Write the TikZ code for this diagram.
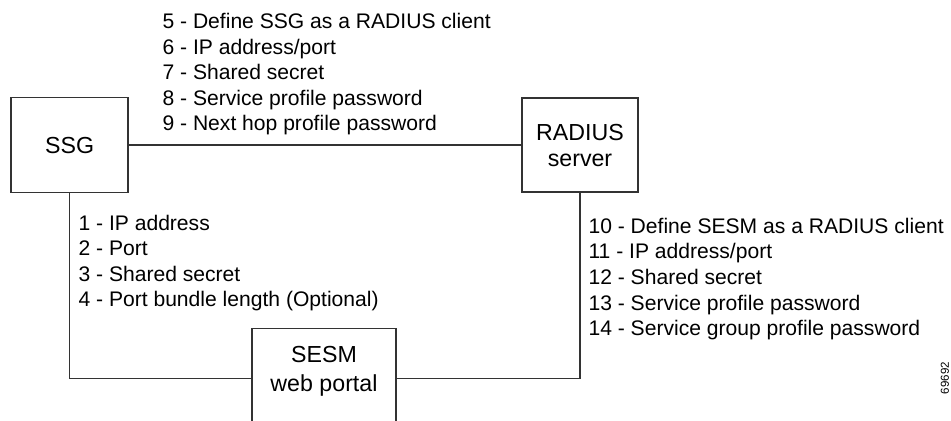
\documentclass[tikz,border=0pt]{standalone}
\usepackage{fontspec}
\setmainfont{Liberation Sans}
\usepackage{tikz}

\begin{document}
\begin{tikzpicture}[thick]

	\tikzstyle{unit} = [draw=black!80,line width=1pt,align=center,inner sep=0pt,font=\fontsize{16.5}{18.5}\selectfont]
	\tikzstyle{steps} = [anchor=base west,align=left,inner sep=0pt,font=\fontsize{15}{18.2}\selectfont]
	\tikzstyle{link} = [draw=black!80,line width=1pt]

	\useasboundingbox (0,0) rectangle (23.775,10.5);

	% the three units
	\node[unit,minimum width=2.925cm,minimum height=2.375cm] (ssg) at (1.74,6.87) {SSG};
	\node[unit,minimum width=2.9cm,minimum height=2.35cm] (radius) at (14.5,6.87) {RADIUS\\server};
	\node[unit,minimum width=3.6cm,minimum height=2.5cm,anchor=north] (sesm) at (8.1,2.3) {};
	\node[align=center,inner sep=0pt,font=\fontsize{16.5}{21}\selectfont] (sesmname) at (8.1,1.22) {SESM\\web portal};

	% links
	\draw[link] (ssg.east) -- (radius.west);
	\draw[link] (ssg.south) |- (sesm.west);
	\draw[link] (radius.south) |- (sesm.east);

	% steps (anchored at the baseline of the last line)
	\node[steps] (radiussteps) at (4.05,7.23) {5 - Define SSG as a RADIUS client\\6 - IP address/port\\7 - Shared secret\\8 - Service profile password\\9 - Next hop profile password};
	\node[steps] (ssgsteps) at (1.95,2.83) {1 - IP address\\2 - Port\\3 - Shared secret\\4 - Port bundle length (Optional)};
	\node[steps] (sesmsteps) at (14.7,2.11) {10 - Define SESM as a RADIUS client\\11 - IP address/port\\12 - Shared secret\\13 - Service profile password\\14 - Service group profile password};

	\node[rotate=90,font=\fontsize{8.2}{10}\selectfont] (figid) at (23.625,1.05) {69692};
\end{tikzpicture}
\end{document}
